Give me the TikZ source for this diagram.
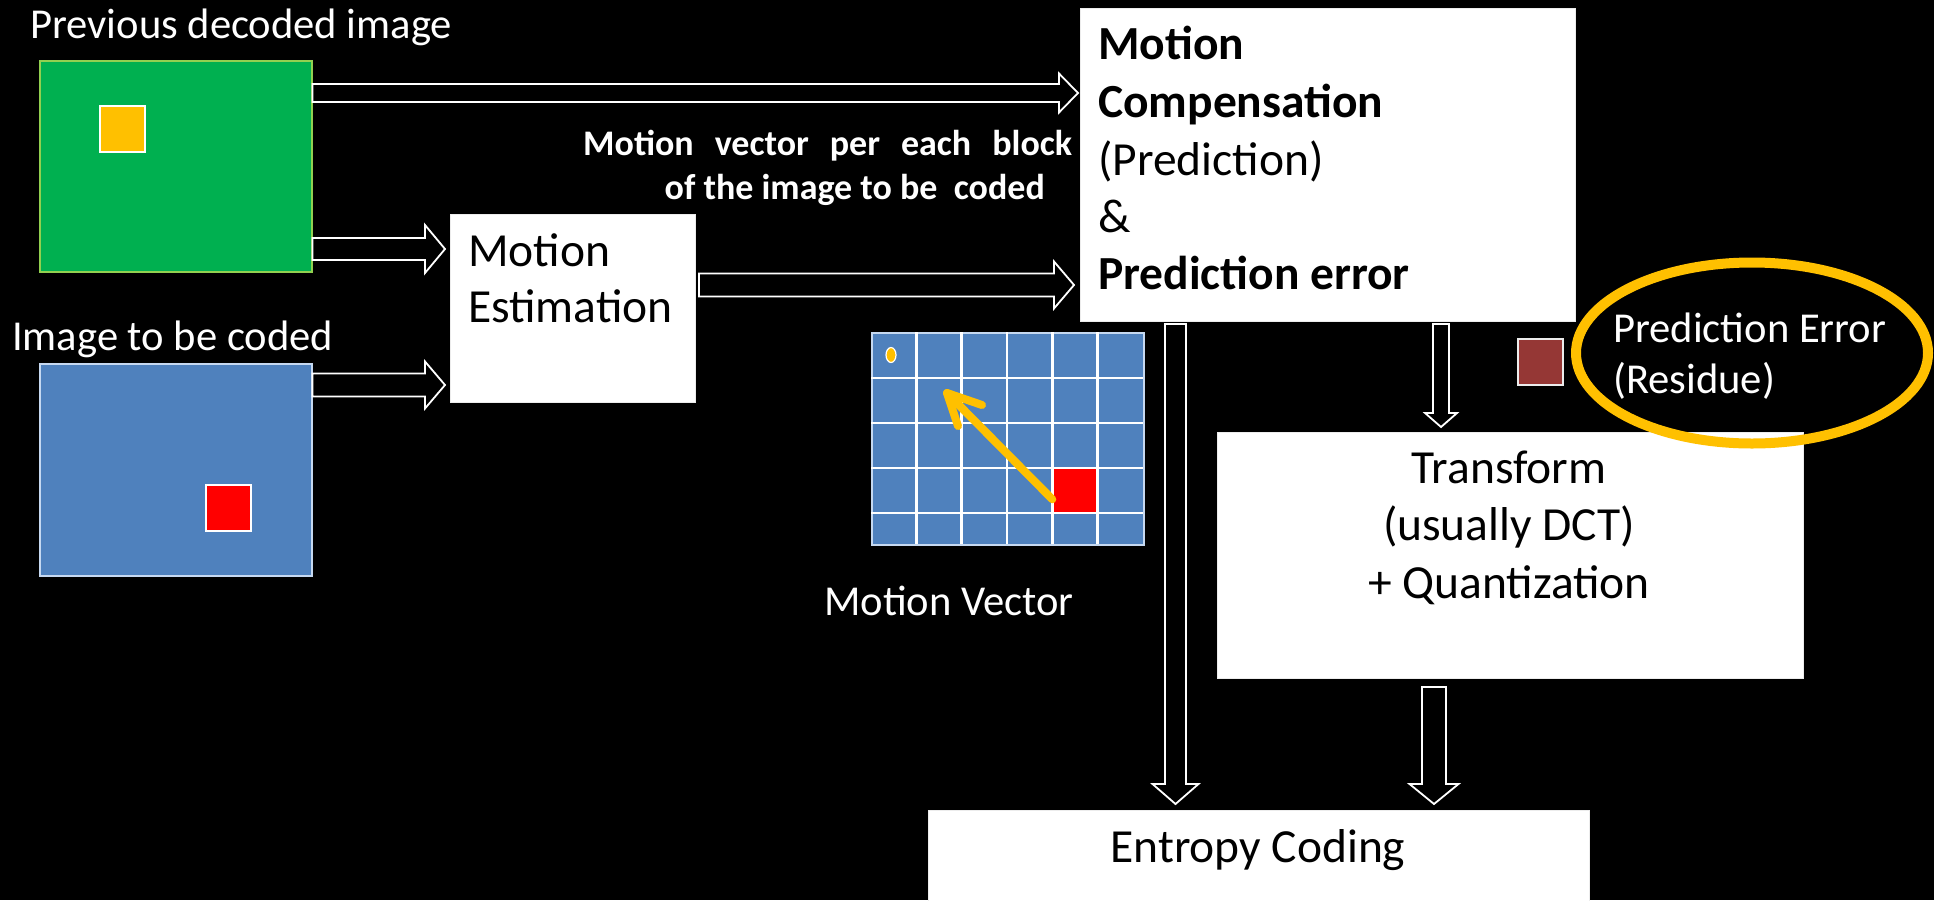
\documentclass[tikz,border=0pt]{standalone}
\usepackage{fontspec}
\setmainfont{Carlito}
\usetikzlibrary{calc}
\definecolor{pgreen}{HTML}{00B050}
\definecolor{pgreenedge}{HTML}{92D050}
\definecolor{pblue}{HTML}{4F81BD}
\definecolor{pblueedge}{HTML}{C6D9F1}
\definecolor{porange}{HTML}{FFC000}
\definecolor{pred}{HTML}{FF0000}
\definecolor{presid}{HTML}{953735}
\newcommand\lblsize{\fontsize{42.6}{50}\selectfont}
\newcommand\boxsize{\fontsize{47.5}{56}\selectfont}
\newcommand\notesize{\fontsize{36}{42}\selectfont}
% horizontal block arrow: start, end, shaft half width, head half width, head length
\newcommand\hblk[5]{%
  \draw[blk] let \p1=#1, \p2=#2 in
    (\x1,\y1+#3) -- (\x2-#5,\y1+#3) -- (\x2-#5,\y1+#4) -- (\x2,\y1)
    -- (\x2-#5,\y1-#4) -- (\x2-#5,\y1-#3) -- (\x1,\y1-#3) -- cycle;}
% vertical (downward) block arrow
\newcommand\vblk[5]{%
  \draw[blk] let \p1=#1, \p2=#2 in
    (\x1-#3,\y1) -- (\x1-#3,\y2+#5) -- (\x1-#4,\y2+#5) -- (\x1,\y2)
    -- (\x1+#4,\y2+#5) -- (\x1+#3,\y2+#5) -- (\x1+#3,\y1) -- cycle;}
\begin{document}
\begin{tikzpicture}[x=1pt,y=-1pt,
  blk/.style={draw=white,fill=black,line width=1.8pt,line join=miter},
  wbox/.style={draw=white!85!gray,fill=white,line width=1pt,inner sep=0pt,anchor=north west},
  pic/.style={inner sep=0pt,anchor=north west,line width=1.5pt},
  wtxt/.style={text=white,inner sep=0pt,anchor=base west},
  btxt/.style={text=black,inner sep=0pt,anchor=base west},
  ctxt/.style={text=black,inner sep=0pt,anchor=base}]
\useasboundingbox (0,0) rectangle (1934,900);
\fill[black] (0,0) rectangle (1934,900);

% images
\node[pic,draw=pgreenedge,fill=pgreen,minimum width=272pt,minimum height=211pt] (green) at (39,60) {};
\node[pic,draw=white,fill=porange,minimum width=45pt,minimum height=46pt] (gsq) at (99,105) {};
\node[pic,draw=pblueedge,fill=pblue,minimum width=272pt,minimum height=212pt] (blue) at (39,363) {};
\node[pic,draw=white,fill=pred,minimum width=45pt,minimum height=46pt] (bsq) at (205,484) {};

\node[wtxt,font=\lblsize] (lprev) at (30,38) {Previous decoded image};
\node[wtxt,font=\lblsize] (limg) at (12,350) {Image to be coded};

% boxes
\node[wbox,minimum width=245pt,minimum height=188pt] (me) at (450,214) {};
\node[btxt,font=\boxsize] (me1) at (468,266) {Motion};
\node[btxt,font=\boxsize] (me2) at (468,322) {Estimation};

\node[wbox,minimum width=495pt,minimum height=313pt] (mc) at (1080,8) {};
\node[btxt,font=\boxsize\bfseries] (mc1) at (1098,59) {Motion};
\node[btxt,font=\boxsize\bfseries] (mc2) at (1098,117) {Compensation};
\node[btxt,font=\boxsize] (mc3) at (1098,175) {(Prediction)};
\node[btxt,font=\boxsize] (mc4) at (1098,232) {\&};
\node[btxt,font=\boxsize\bfseries] (mc5) at (1098,289) {Prediction error};

\node[wbox,minimum width=586pt,minimum height=246pt] (tr) at (1217,432) {};
\node[ctxt,font=\boxsize] (tr1) at (1509,483) {Transform};
\node[ctxt,font=\boxsize] (tr2) at (1509,540) {(usually DCT)};
\node[ctxt,font=\boxsize] (tr3) at (1509,598) {+ Quantization};

\node[wbox,minimum width=661pt,minimum height=100pt] (ent) at (928,810) {};
\node[ctxt,font=\boxsize] (ent1) at (1258,862) {Entropy Coding};

% note text
\node[wtxt,font=\notesize\bfseries] (note1) at (583,155) {\makebox[489pt][s]{Motion vector per each block}};
\node[text=white,inner sep=0pt,anchor=base east,font=\notesize\bfseries] (note2) at (1045,199) {of the image to be~~coded};

% block arrows
\hblk{([yshift=-33pt]green.north east)}{([xshift=-2pt,yshift=-85pt]mc.north west)}{9}{19.5}{19}
\hblk{([yshift=-189pt]green.north east)}{([xshift=-5pt,yshift=-35pt]me.north west)}{11}{24}{20}
\hblk{([yshift=-22pt]blue.north east)}{([xshift=-5pt,yshift=-171pt]me.north west)}{11.5}{23.5}{20}
\hblk{([xshift=3pt,yshift=-71pt]me.north east)}{([xshift=-6pt,yshift=-277pt]mc.north west)}{11.5}{23.5}{20}
\vblk{([xshift=95.5pt,yshift=-2pt]mc.south west)}{([xshift=247.5pt,yshift=6pt]ent.north west)}{10.5}{23}{20}
\vblk{([xshift=361pt,yshift=-2pt]mc.south west)}{([xshift=224pt,yshift=5pt]tr.north west)}{8}{16}{14}
\vblk{([xshift=217pt,yshift=-8pt]tr.south west)}{([xshift=506pt,yshift=6pt]ent.north west)}{12}{24.5}{20}

% motion vector grid
\node[pic,draw=pblueedge,fill=pblue,minimum width=272pt,minimum height=212pt] (grid) at (871,332) {};
\node[pic,fill=pred,minimum width=45.3pt,minimum height=45pt] (mvred) at (1052.3,468) {};
\foreach \gx in {916.3,961.7,1007,1052.3,1097.7}
  \draw[white,line width=2.5pt] (\gx,332) -- (\gx,544);
\foreach \gy in {378,423,468,513}
  \draw[white,line width=2.5pt] (871,\gy) -- (1143,\gy);
\draw[draw=white,fill=porange,line width=1.2pt] (891,355) ellipse [x radius=5pt,y radius=7.5pt];
\coordinate (mvtip) at (947,393);
\draw[porange,line width=8pt,line cap=round] ([yshift=-8pt]mvred.west) -- (mvtip);
\draw[porange,line width=8pt,line cap=round,line join=round] ($(mvtip)+(35,12)$) -- (mvtip) -- ($(mvtip)+(11,33)$);
\node[wtxt,font=\lblsize] (lmv) at (824,615) {Motion Vector};

% residue
\node[pic,draw=white!85!gray,fill=presid,minimum width=45pt,minimum height=46pt] (resid) at (1517,338) {};
\node[wtxt,font=\lblsize] (pe1) at (1613,342) {Prediction Error};
\node[wtxt,font=\lblsize] (pe2) at (1613,393) {(Residue)};
\draw[porange,line width=10pt] (1752,353) ellipse [x radius=176pt,y radius=90.5pt];
\end{tikzpicture}
\end{document}
